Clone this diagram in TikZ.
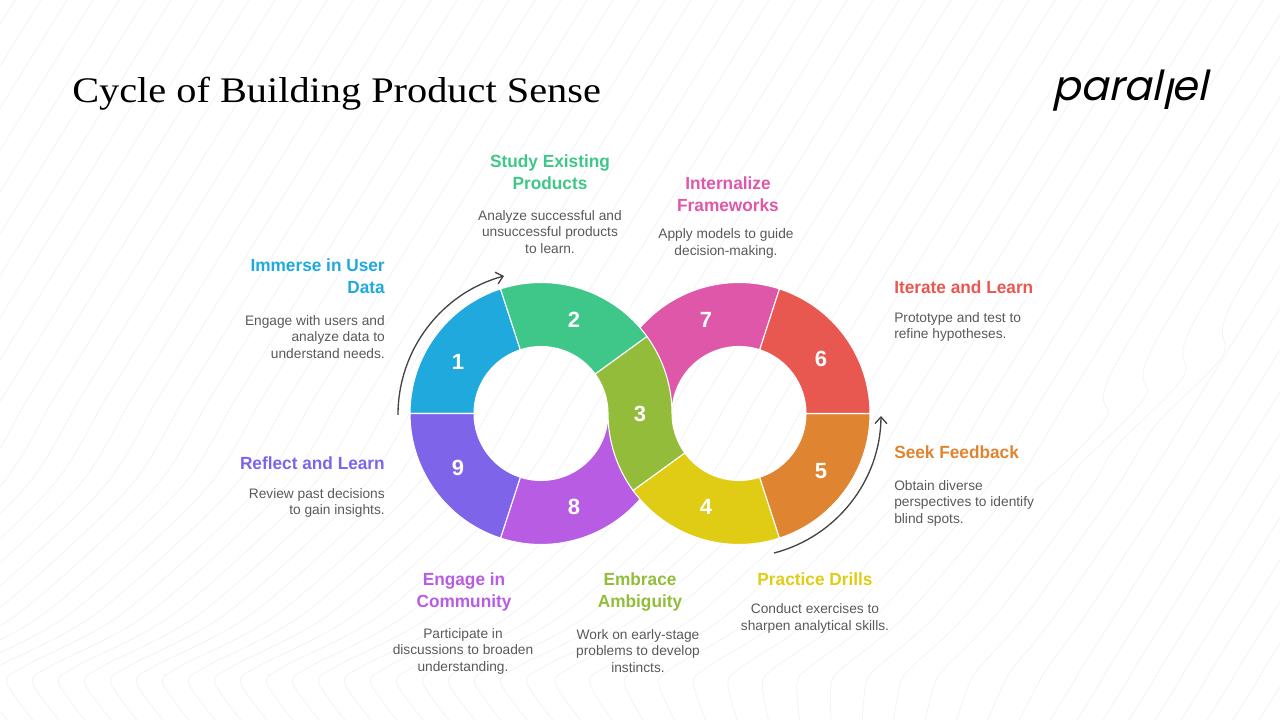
\documentclass[tikz,border=0pt]{standalone}
\usepackage{fontspec}
\setmainfont{Liberation Sans}
\newfontfamily\titlefont{Liberation Serif}[FakeStretch=1.12]
\newfontfamily\headfont{Liberation Sans}[FakeStretch=0.98]
\newfontfamily\logofont{Poppins}[FakeSlant=0.22]
\usetikzlibrary{arrows.meta}

\definecolor{seg1}{HTML}{1FA9DD}
\definecolor{seg2}{HTML}{3EC788}
\definecolor{seg3}{HTML}{93BC3A}
\definecolor{seg4}{HTML}{E0CC15}
\definecolor{seg5}{HTML}{DF8430}
\definecolor{seg6}{HTML}{E85851}
\definecolor{seg7}{HTML}{DE57A8}
\definecolor{seg8}{HTML}{B85CE4}
\definecolor{seg9}{HTML}{7E64E9}
\definecolor{bodygray}{HTML}{595959}
\definecolor{arrowgray}{HTML}{444444}
\definecolor{linegray}{HTML}{F3F3F3}

\tikzset{
  segment/.style={draw=white,line width=0.8pt},
  numtext/.style={text=white,font=\fontsize{16.5}{18}\selectfont\bfseries,inner sep=0pt},
  headtext/.style={font=\headfont\fontsize{13.2}{16.5}\selectfont\bfseries,inner sep=0pt},
  bodytext/.style={text=bodygray,font=\fontsize{10.3}{12.4}\selectfont,inner sep=0pt},
  cyclearrow/.style={draw=arrowgray,line width=1pt,->},
  bgline/.style={draw=linegray,line width=0.6pt}
}

\begin{document}
\begin{tikzpicture}[x=0.75pt,y=0.75pt,>={Straight Barb[length=5pt,width=9pt]}]
    \useasboundingbox (0,0) rectangle (1280,720);

    % background lines
    \begin{scope}
    \clip (0,0) rectangle (1280,720);
    \foreach \d in {15,41,...,1731} {
        \pgfmathsetmacro{\w}{max(0,min(1,(1500-\d)/400))}
        \pgfmathsetmacro{\k}{and(\d>1340,\d<1440)}
        \pgfmathsetmacro{\yk}{(283+(1435-\d)*0.8)*\k+270*(1-\k)}
        \draw[bgline] plot[smooth] coordinates {
            (\d,720) ({\d-.62*\yk},{720-\yk})
            ({\d-.62*(\yk+60)+24*\k},{660-\yk}) ({\d-.62*(\yk+130)},{590-\yk})
            ({\d-304},230) ({\d-380-58*\w},107) ({\d-414-124*\w},53)
            ({\d-423-131*\w},37) ({\d-446-82*\w},0)};
    }
    \end{scope}

    % title and logo
    \node[anchor=base west,inner sep=0pt,font=\titlefont\fontsize{27}{30}\selectfont] (title) at (72,617) {Cycle of Building Product Sense};
    \node[inner sep=0pt,font=\logofont\fontsize{31}{34}\selectfont] (logo) at (1130,629) {paral\raisebox{-0.2em}{l}el};

    % ring segments
    \coordinate (centL) at (541,306.5);
    \coordinate (centR) at (739,306.5);
    \foreach \cent/\a/\b/\col in {centR/72/180/seg7,centL/252/360/seg8,centL/108/180/seg1,centL/36/108/seg2,
        centL/180/252/seg9,centR/216/288/seg4,centR/288/360/seg5,centR/0/72/seg6} {
        \draw[segment,fill=\col] ([shift={(\a:131)}]\cent) arc[start angle=\a,end angle=\b,radius=131]
            -- ([shift={(\b:67)}]\cent) arc[start angle=\b,end angle=\a,radius=67] -- cycle;
    }
    \draw[segment,fill=seg3] ([shift={(36:131)}]centL) arc[start angle=36,end angle=0,radius=131]
        arc[start angle=180,end angle=216,radius=67] -- ([shift={(216:131)}]centR)
        arc[start angle=216,end angle=180,radius=131] arc[start angle=0,end angle=36,radius=67] -- cycle;

    % numbers
    \node[numtext] (n1) at (458,358.5) {1};
    \node[numtext] (n2) at (574,400) {2};
    \node[numtext] (n3) at (640,306.5) {3};
    \node[numtext] (n4) at (706,213) {4};
    \node[numtext] (n5) at (821,249) {5};
    \node[numtext] (n6) at (821,361.5) {6};
    \node[numtext] (n7) at (706,400) {7};
    \node[numtext] (n8) at (574,213) {8};
    \node[numtext] (n9) at (458,252) {9};

    % arrows
    \coordinate (armLa) at (398,305);
    \coordinate (armLb) at (504,444);
    \coordinate (armRa) at (774,167);
    \coordinate (armRb) at (881,304);
    \draw[cyclearrow] (armLa) to[bend left=37.5,looseness=0.95] (armLb);
    \draw[cyclearrow] (armRa) to[bend right=37.5,looseness=0.95] (armRb);

    % labels
    \node[headtext,text=seg2,align=center] (head2) at (550,548) {Study Existing\\Products};
    \node[bodytext,align=center] (body2) at (550,488) {Analyze successful and\\unsuccessful products\\to learn.};
    \node[headtext,text=seg7,align=center] (head7) at (728,526) {Internalize\\Frameworks};
    \node[bodytext,align=center] (body7) at (726,476.5) {Apply models to guide\\decision-making.};
    \node[headtext,text=seg1,align=right,anchor=east] (head1) at (385,444) {Immerse in User\\Data};
    \node[bodytext,align=right,anchor=east] (body1) at (385,383) {Engage with users and\\analyze data to\\understand needs.};
    \node[headtext,text=seg6,align=left,anchor=west] (head6) at (894,433) {Iterate and Learn};
    \node[bodytext,align=left,anchor=west] (body6) at (894,393) {Prototype and test to\\refine hypotheses.};
    \node[headtext,text=seg5,align=left,anchor=west] (head5) at (894,268) {Seek Feedback};
    \node[bodytext,align=left,anchor=west] (body5) at (894,217) {Obtain diverse\\perspectives to identify\\blind spots.};
    \node[headtext,text=seg9,align=right,anchor=east] (head9) at (385,257) {Reflect and Learn};
    \node[bodytext,align=right,anchor=east] (body9) at (385,217) {Review past decisions\\to gain insights.};
    \node[headtext,text=seg8,align=center] (head8) at (464,128) {Engage in\\Community};
    \node[bodytext,align=center] (body8) at (463,69) {Participate in\\discussions to broaden\\understanding.};
    \node[headtext,text=seg3,align=center] (head3) at (640,128) {Embrace\\Ambiguity};
    \node[bodytext,align=center] (body3) at (638,69) {Work on early-stage\\problems to develop\\instincts.};
    \node[headtext,text=seg4,align=center] (head4) at (815,141) {Practice Drills};
    \node[bodytext,align=center] (body4) at (815,101.5) {Conduct exercises to\\sharpen analytical skills.};
\end{tikzpicture}
\end{document}
